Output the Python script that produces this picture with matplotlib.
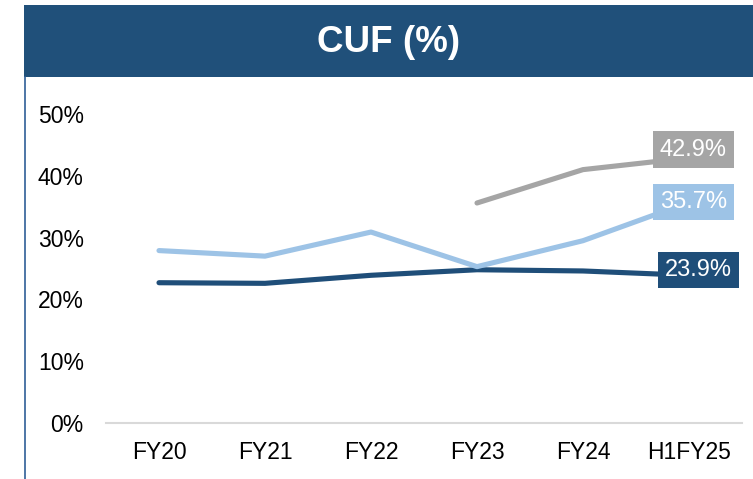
import matplotlib
matplotlib.use("Agg")
import matplotlib.pyplot as plt
from matplotlib.patches import Rectangle
from matplotlib.lines import Line2D
import numpy as np

plt.rcParams["font.family"] = ["Liberation Sans", "DejaVu Sans"]

# data (CUF %)
categories = ["FY20", "FY21", "FY22", "FY23", "FY24", "H1FY25"]
cuf_navy = [22.7, 22.6, 23.9, 24.8, 24.6, 23.9]
cuf_light = [27.9, 27.0, 30.9, 25.3, 29.5, 35.7]
cuf_grey = [np.nan, np.nan, np.nan, 35.6, 41.0, 42.9]
y_ticks = [0, 10, 20, 30, 40, 50]

NAVY = "#1F4E79"
LIGHT = "#9DC3E6"
GREY = "#A5A5A5"

W, H = 753, 479
fig = plt.figure(figsize=(W / 100, H / 100), dpi=100, facecolor="white")

# title banner + left border
fig.patches.append(Rectangle((24 / W, 1 - 77 / H), 1 - 24 / W, 72 / H,
                             transform=fig.transFigure, facecolor="#20507A",
                             edgecolor="none", zorder=0))
fig.lines.append(Line2D([24.5 / W, 24.5 / W], [0, 1 - 77 / H], transform=fig.transFigure,
                        color="#2F5F97", lw=1.2))
fig.text(389 / W, 1 - 42 / H, "CUF (%)", color="white", fontsize=26.5,
         fontweight="bold", ha="center", va="center")

ax = fig.add_axes([106 / W, (H - 423) / H, 636 / W, 309 / H])
x = np.arange(len(categories))

series = [
    (cuf_navy, NAVY, (7, 4)),
    (cuf_light, LIGHT, (3, 0)),
    (cuf_grey, GREY, (3, 6)),
]
for vals, col, off in series:
    ax.plot(x, vals, color=col, lw=3.7, solid_capstyle="round",
            solid_joinstyle="round", zorder=2)
    last = vals[-1]
    ax.annotate(f"{last:.1f}%", (x[-1], last), xytext=off, textcoords="offset points",
                ha="center", va="center", color="white", fontsize=17, zorder=4,
                bbox=dict(boxstyle="square,pad=0.3", fc=col, ec="none"),
                annotation_clip=False)

ax.set_xlim(-0.5, len(categories) - 0.5)
ax.set_ylim(0, 50)
ax.set_xticks(x)
ax.set_xticklabels(categories, fontsize=16.5)
ax.set_yticks(y_ticks)
ax.set_yticklabels([f"{v}%" for v in y_ticks], fontsize=16.5)
ax.tick_params(length=0)
ax.tick_params(axis="x", pad=13)
ax.tick_params(axis="y", pad=16)
for s in ["top", "right", "left"]:
    ax.spines[s].set_visible(False)
ax.spines["bottom"].set_color("#D9D9D9")
ax.spines["bottom"].set_linewidth(1.5)

fig.savefig("out.png", dpi=100, facecolor="white")
